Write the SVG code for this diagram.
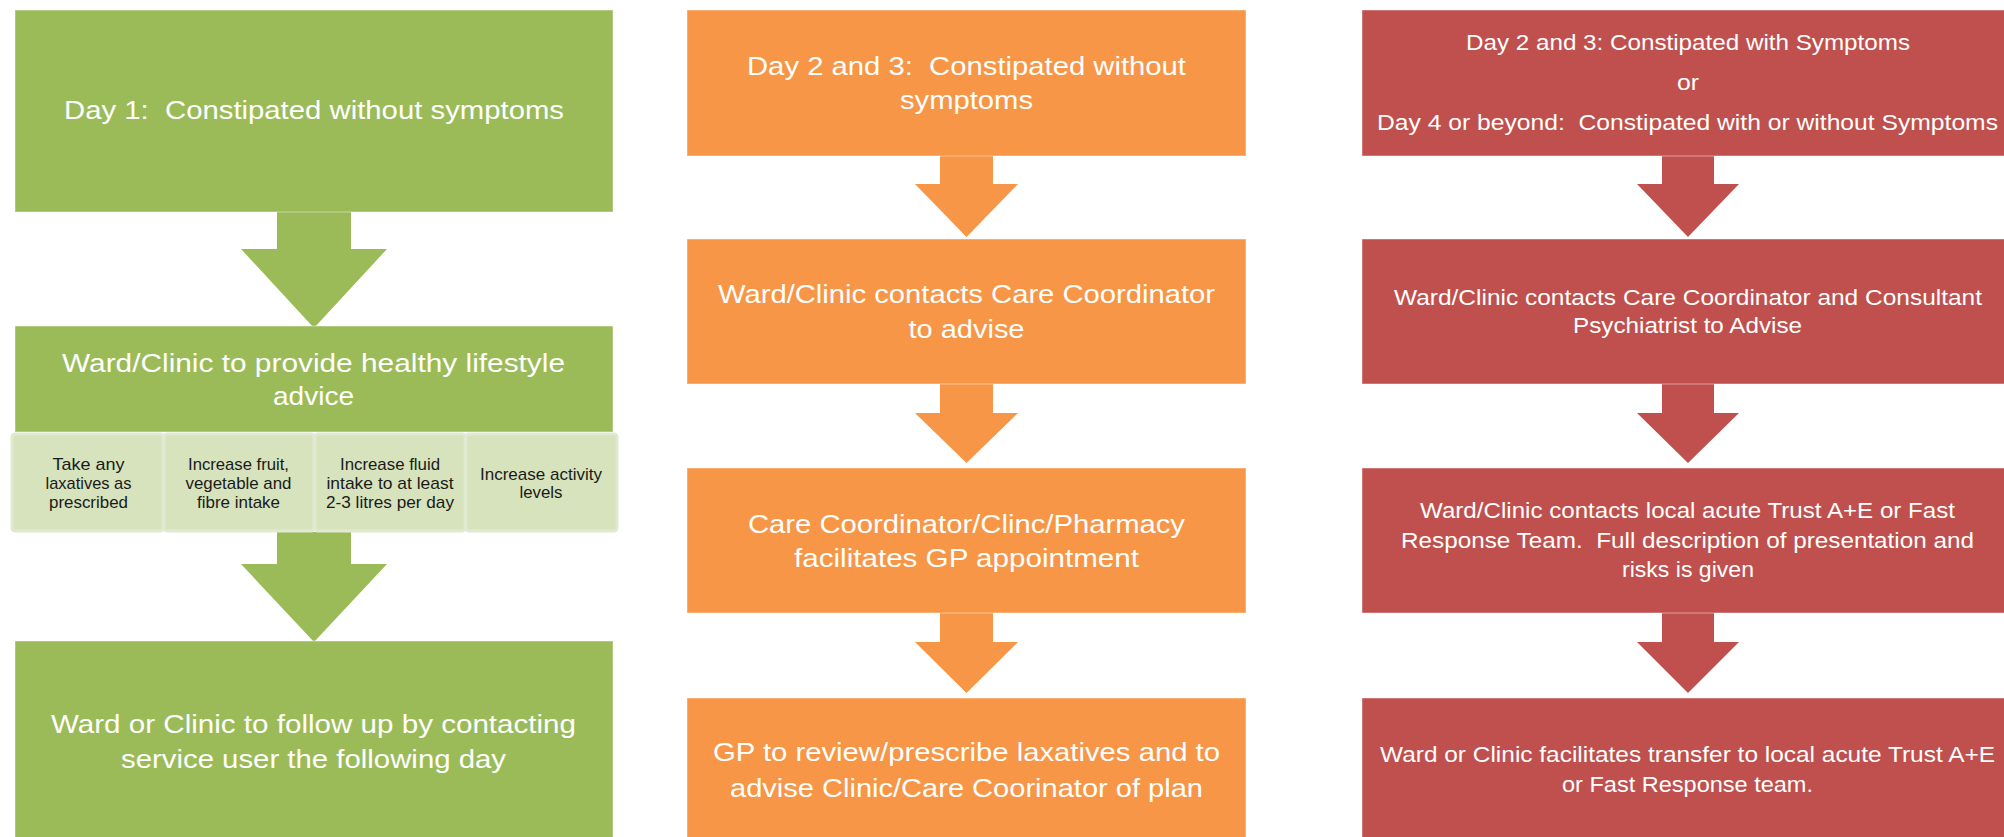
<svg xmlns="http://www.w3.org/2000/svg" width="2004" height="837" viewBox="0 0 2004 837" xml:space="preserve">
<style>
.g{fill:#9BBB59;stroke:#ffffff;stroke-opacity:0.45;stroke-width:1}
.o{fill:#F79646;stroke:#ffffff;stroke-opacity:0.45;stroke-width:1}
.r{fill:#C0504D;stroke:#ffffff;stroke-opacity:0.45;stroke-width:1}
.cell{fill:#D6E3BC;stroke:#E1EAD0;stroke-width:3}
.ga{fill:#9BBB59}
.oa{fill:#F79646}
.ra{fill:#C0504D}
text{font-family:"Liberation Sans",Arial,sans-serif;text-anchor:middle;white-space:pre}
.t{fill:#ffffff;font-size:26px}
.ts{fill:#ffffff;font-size:22px}
.tc{fill:#1a1a1a;font-size:17px}
</style>
<rect width="2004" height="837" fill="#ffffff"/>
<g id="connectors">
<polygon class="ga" points="277,212 351,212 351,249 387,249 314,328 241,249 277,249"/>
<polygon class="ga" points="277,532 351,532 351,564 387,564 314,642 241,564 277,564"/>
<polygon class="oa" points="940,156 993,156 993,184 1018,184 966.5,237 915,184 940,184"/>
<polygon class="oa" points="940,384 993,384 993,413 1018,413 966.5,463 915,413 940,413"/>
<polygon class="oa" points="940,613 993,613 993,642 1018,642 966.5,693 915,642 940,642"/>
<polygon class="ra" points="1662,156 1714,156 1714,184 1739,184 1688,237 1637,184 1662,184"/>
<polygon class="ra" points="1662,384 1714,384 1714,413 1739,413 1688,463 1637,413 1662,413"/>
<polygon class="ra" points="1662,613 1714,613 1714,642 1739,642 1688,693 1637,642 1662,642"/>
</g>
<g id="g1">
<rect class="g" x="15" y="10" width="598" height="202"/>
<text class="t" x="314" y="119" textLength="500" lengthAdjust="spacingAndGlyphs">Day 1:  Constipated without symptoms</text>
</g>
<g id="g2">
<rect class="g" x="15" y="326" width="598" height="106"/>
<text class="t" x="313.5" y="372" textLength="503" lengthAdjust="spacingAndGlyphs">Ward/Clinic to provide healthy lifestyle</text>
<text class="t" x="313.5" y="405" textLength="81" lengthAdjust="spacingAndGlyphs">advice</text>
</g>
<g id="c1">
<rect class="cell" x="12" y="434" width="151" height="97" rx="3"/>
<text class="tc" x="88.5" y="470" textLength="72" lengthAdjust="spacingAndGlyphs">Take any</text>
<text class="tc" x="88.5" y="489" textLength="86" lengthAdjust="spacingAndGlyphs">laxatives as</text>
<text class="tc" x="88.5" y="508" textLength="79" lengthAdjust="spacingAndGlyphs">prescribed</text>
</g>
<g id="c2">
<rect class="cell" x="164" y="434" width="150" height="97" rx="3"/>
<text class="tc" x="238.5" y="470" textLength="101" lengthAdjust="spacingAndGlyphs">Increase fruit,</text>
<text class="tc" x="238.5" y="489" textLength="106" lengthAdjust="spacingAndGlyphs">vegetable and</text>
<text class="tc" x="238.5" y="508" textLength="83" lengthAdjust="spacingAndGlyphs">fibre intake</text>
</g>
<g id="c3">
<rect class="cell" x="315" y="434" width="150" height="97" rx="3"/>
<text class="tc" x="390" y="470" textLength="100" lengthAdjust="spacingAndGlyphs">Increase fluid</text>
<text class="tc" x="390" y="489" textLength="127" lengthAdjust="spacingAndGlyphs">intake to at least</text>
<text class="tc" x="390" y="508" textLength="128" lengthAdjust="spacingAndGlyphs">2-3 litres per day</text>
</g>
<g id="c4">
<rect class="cell" x="466" y="434" width="151" height="97" rx="3"/>
<text class="tc" x="541" y="480" textLength="122" lengthAdjust="spacingAndGlyphs">Increase activity</text>
<text class="tc" x="541" y="498" textLength="43" lengthAdjust="spacingAndGlyphs">levels</text>
</g>
<g id="g3">
<rect class="g" x="15" y="641" width="598" height="200"/>
<text class="t" x="313.5" y="733" textLength="525" lengthAdjust="spacingAndGlyphs">Ward or Clinic to follow up by contacting</text>
<text class="t" x="313.5" y="768" textLength="385" lengthAdjust="spacingAndGlyphs">service user the following day</text>
</g>
<g id="o1">
<rect class="o" x="687" y="10" width="559" height="146"/>
<text class="t" x="966.5" y="75" textLength="439" lengthAdjust="spacingAndGlyphs">Day 2 and 3:  Constipated without</text>
<text class="t" x="966.5" y="109" textLength="133" lengthAdjust="spacingAndGlyphs">symptoms</text>
</g>
<g id="o2">
<rect class="o" x="687" y="239" width="559" height="145"/>
<text class="t" x="966.5" y="303" textLength="497" lengthAdjust="spacingAndGlyphs">Ward/Clinic contacts Care Coordinator</text>
<text class="t" x="966.5" y="338" textLength="116" lengthAdjust="spacingAndGlyphs">to advise</text>
</g>
<g id="o3">
<rect class="o" x="687" y="468" width="559" height="145"/>
<text class="t" x="966.5" y="533" textLength="437" lengthAdjust="spacingAndGlyphs">Care Coordinator/Clinc/Pharmacy</text>
<text class="t" x="966.5" y="567" textLength="345" lengthAdjust="spacingAndGlyphs">facilitates GP appointment</text>
</g>
<g id="o4">
<rect class="o" x="687" y="698" width="559" height="145"/>
<text class="t" x="966.5" y="761" textLength="507" lengthAdjust="spacingAndGlyphs">GP to review/prescribe laxatives and to</text>
<text class="t" x="966.5" y="797" textLength="473" lengthAdjust="spacingAndGlyphs">advise Clinic/Care Coorinator of plan</text>
</g>
<g id="r1">
<rect class="r" x="1362" y="10" width="650" height="146"/>
<text class="ts" x="1688" y="50" textLength="444" lengthAdjust="spacingAndGlyphs">Day 2 and 3: Constipated with Symptoms</text>
<text class="ts" x="1688" y="90" textLength="22" lengthAdjust="spacingAndGlyphs">or</text>
<text class="ts" x="1687.5" y="130" textLength="621" lengthAdjust="spacingAndGlyphs">Day 4 or beyond:  Constipated with or without Symptoms</text>
</g>
<g id="r2">
<rect class="r" x="1362" y="239" width="650" height="145"/>
<text class="ts" x="1688" y="305" textLength="588" lengthAdjust="spacingAndGlyphs">Ward/Clinic contacts Care Coordinator and Consultant</text>
<text class="ts" x="1687.5" y="333" textLength="229" lengthAdjust="spacingAndGlyphs">Psychiatrist to Advise</text>
</g>
<g id="r3">
<rect class="r" x="1362" y="468" width="650" height="145"/>
<text class="ts" x="1687.5" y="518" textLength="535" lengthAdjust="spacingAndGlyphs">Ward/Clinic contacts local acute Trust A+E or Fast</text>
<text class="ts" x="1687.5" y="548" textLength="573" lengthAdjust="spacingAndGlyphs">Response Team.  Full description of presentation and</text>
<text class="ts" x="1688" y="577" textLength="132" lengthAdjust="spacingAndGlyphs">risks is given</text>
</g>
<g id="r4">
<rect class="r" x="1362" y="698" width="650" height="145"/>
<text class="ts" x="1687.5" y="762" textLength="615" lengthAdjust="spacingAndGlyphs">Ward or Clinic facilitates transfer to local acute Trust A+E</text>
<text class="ts" x="1687.5" y="792" textLength="251" lengthAdjust="spacingAndGlyphs">or Fast Response team.</text>
</g>
</svg>
